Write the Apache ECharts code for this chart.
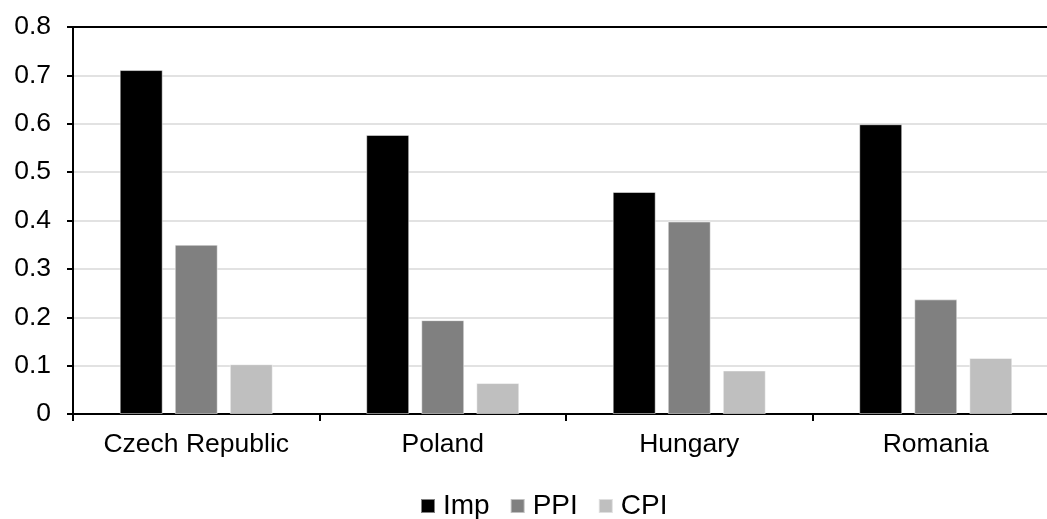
<!DOCTYPE html>
<html>
<head>
<meta charset="utf-8">
<script src="https://cdn.jsdelivr.net/npm/echarts@6/dist/echarts.min.js"></script>
<style>
html,body{margin:0;padding:0;background:#fff;}
#chart{width:1047px;height:519px;}
</style>
</head>
<body>
<div id="chart"></div>
<script>
const categories = ['Czech Republic', 'Poland', 'Hungary', 'Romania'];
const impValues = [0.711, 0.577, 0.459, 0.599];
const ppiValues = [0.350, 0.194, 0.398, 0.237];
const cpiValues = [0.103, 0.064, 0.090, 0.116];
const yTicks = [0, 0.1, 0.2, 0.3, 0.4, 0.5, 0.6, 0.7, 0.8];

const font = '"Liberation Sans", Arial, sans-serif';
const chart = echarts.init(document.getElementById('chart'));
const barBorder = { borderColor: 'rgba(255,255,255,0.5)', borderWidth: 1 };

chart.setOption({
  animation: false,
  backgroundColor: '#fff',
  textStyle: { fontFamily: font },
  grid: { left: 73, top: 27, width: 986, height: 387, containLabel: false, outerBoundsMode: 'none' },
  legend: {
    data: ['Imp', 'PPI', 'CPI'],
    left: 415,
    top: 487,
    icon: 'rect',
    itemWidth: 14,
    itemHeight: 14,
    itemGap: 20,
    textStyle: { fontSize: 28, color: '#000', fontFamily: font, padding: [0, 0, 0, 3] }
  },
  xAxis: [{
    type: 'category',
    data: categories,
    position: 'bottom',
    axisLine: { lineStyle: { color: '#000', width: 2 } },
    axisTick: { show: true, length: 7, lineStyle: { color: '#000', width: 2 } },
    axisLabel: { fontSize: 26.5, color: '#000', margin: 17, fontFamily: font }
  }, {
    type: 'category',
    data: categories,
    position: 'top',
    axisLine: { show: true, lineStyle: { color: '#000', width: 2 } },
    axisTick: { show: false },
    axisLabel: { show: false }
  }],
  yAxis: {
    type: 'value',
    min: 0,
    max: 0.8,
    interval: 0.1,
    axisLine: { show: true, lineStyle: { color: '#000', width: 2 } },
    axisTick: { show: true, length: 6, lineStyle: { color: '#000', width: 2 } },
    axisLabel: {
      fontSize: 26.5, color: '#000', margin: 22, fontFamily: font,
      formatter: function (v) {
        const t = yTicks.find(x => Math.abs(x - v) < 1e-9);
        return t === 0 ? '0' : String(+(t !== undefined ? t : v).toFixed(1));
      }
    },
    splitLine: { show: true, lineStyle: { color: '#d9d9d9', width: 1.5 } }
  },
  series: [
    { name: 'Imp', type: 'bar', data: impValues, barWidth: 43, barGap: '28%',
      itemStyle: Object.assign({ color: '#000000' }, barBorder) },
    { name: 'PPI', type: 'bar', data: ppiValues, barWidth: 43, barGap: '28%',
      itemStyle: Object.assign({ color: '#808080' }, barBorder) },
    { name: 'CPI', type: 'bar', data: cpiValues, barWidth: 43, barGap: '28%',
      itemStyle: Object.assign({ color: '#bfbfbf' }, barBorder) }
  ]
});
</script>
</body>
</html>
